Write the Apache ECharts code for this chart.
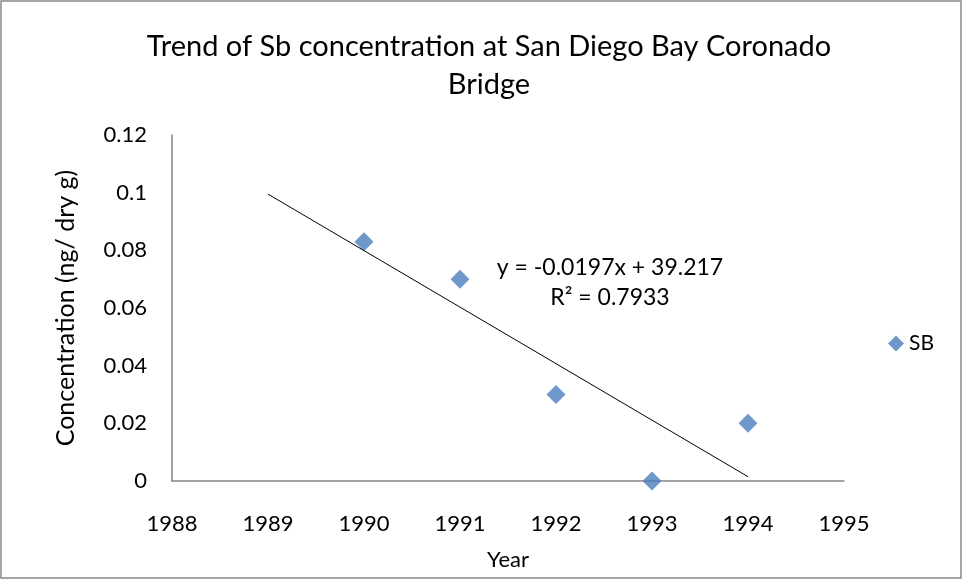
<!DOCTYPE html>
<html>
<head>
<meta charset="utf-8">
<script src="https://cdn.jsdelivr.net/npm/echarts@6/dist/echarts.min.js"></script>
<style>
html,body{margin:0;padding:0;background:#fff;}
#c{width:963px;height:580px;}
</style>
</head>
<body>
<div id="c"></div>
<script>
const years = [1990, 1991, 1992, 1993, 1994];
const sbValues = [0.083, 0.070, 0.030, 0.000, 0.020];
const trendX = [1989, 1994];
const trendY = [0.0995, 0.0015];
const equationText = 'y = -0.0197x + 39.217';
const r2Text = 'R² = 0.7933';
const seriesName = 'SB';

const font = 'Lato, "Open Sans", sans-serif';
const chart = echarts.init(document.getElementById('c'), null, {renderer: 'canvas'});
chart.setOption({
  animation: false,
  backgroundColor: '#fff',
  title: {
    text: 'Trend of Sb concentration at San Diego Bay Coronado\nBridge',
    left: 484, top: 23, textAlign: 'center',
    textStyle: {fontFamily: font, fontWeight: 'normal', fontSize: 29, color: '#000', lineHeight: 38}
  },
  legend: {
    data: [{name: seriesName, icon: 'diamond'}],
    right: 24, top: 328, orient: 'vertical',
    itemWidth: 16, itemHeight: 16, itemGap: 6,
    textStyle: {fontFamily: font, fontSize: 21, color: '#000'}
  },
  grid: {left: 172, right: 119, top: 135, bottom: 99, outerBoundsMode: 'none', containLabel: false},
  xAxis: {
    type: 'value', min: 1988, max: 1995, interval: 1,
    name: 'Year', nameLocation: 'middle', nameGap: 68,
    nameTextStyle: {fontFamily: font, fontSize: 22, color: '#000'},
    axisLine: {show: true, lineStyle: {color: '#868686', width: 1.5}},
    axisTick: {show: false}, splitLine: {show: false},
    axisLabel: {fontFamily: font, fontSize: 22, color: '#000', margin: 32,
      formatter: v => String(v)}
  },
  yAxis: {
    type: 'value', min: 0, max: 0.12, interval: 0.02,
    name: 'Concentration (ng/ dry g)', nameLocation: 'middle', nameGap: 94,
    nameTextStyle: {fontFamily: font, fontSize: 25, color: '#000'},
    axisLine: {show: true, lineStyle: {color: '#868686', width: 1.5}},
    axisTick: {show: false}, splitLine: {show: false},
    axisLabel: {fontFamily: font, fontSize: 22, color: '#000', margin: 25,
      formatter: v => String(parseFloat(v.toFixed(4)))}
  },
  series: [
    {
      name: seriesName, type: 'scatter', symbol: 'diamond', symbolSize: 19,
      itemStyle: {color: '#4a7ebb'},
      data: years.map((y, i) => [y, sbValues[i]])
    },
    {
      name: 'trend', type: 'line', symbol: 'none', silent: true,
      lineStyle: {color: '#000', width: 1},
      data: trendX.map((x, i) => [x, trendY[i]])
    }
  ],
  graphic: [
    {type: 'rect', shape: {x: 1, y: 1, width: 960, height: 577}, style: {fill: 'none', stroke: '#888', lineWidth: 1.5}, silent: true},
    {type: 'text', x: 610, y: 268, style: {text: equationText, fontFamily: font, fontSize: 23, fill: '#000', align: 'center', verticalAlign: 'middle'}},
    {type: 'text', x: 610, y: 298, style: {text: r2Text, fontFamily: font, fontSize: 23, fill: '#000', align: 'center', verticalAlign: 'middle'}}
  ]
});
</script>
</body>
</html>
